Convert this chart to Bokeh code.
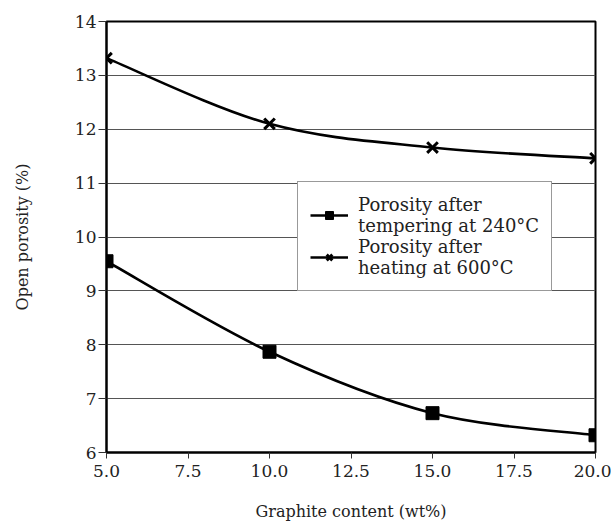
from bokeh.plotting import figure
from bokeh.models import Legend, LegendItem, FixedTicker, CustomJSTickFormatter
from bokeh.embed import file_html
from bokeh.resources import INLINE

graphite = [5.0, 10.0, 15.0, 20.0]
porosity_tempering = [9.55, 7.87, 6.73, 6.32]
porosity_heating = [13.32, 12.10, 11.66, 11.46]
x_ticks = [5.0, 7.5, 10.0, 12.5, 15.0, 17.5, 20.0]
y_ticks = [6, 7, 8, 9, 10, 11, 12, 13, 14]

FONT = "DejaVu Serif"

p = figure(width=611, height=523, output_backend="svg", toolbar_location=None,
           x_range=(5.0, 20.0), y_range=(6, 14),
           min_border_left=106, min_border_right=16, min_border_top=21, min_border_bottom=66)

p.xgrid.visible = False
p.ygrid.grid_line_color = "#555555"
p.ygrid.grid_line_width = 1
p.ygrid.ticker = FixedTicker(ticks=y_ticks)
p.outline_line_color = "black"
p.outline_line_width = 2

p.xaxis.ticker = FixedTicker(ticks=x_ticks)
p.yaxis.ticker = FixedTicker(ticks=y_ticks)
p.xaxis.formatter = CustomJSTickFormatter(code="return tick.toFixed(1);")
for ax in (p.xaxis, p.yaxis):
    ax.axis_line_color = "black"
    ax.axis_line_width = 2
    ax.major_tick_line_color = "#333333"
    ax.major_tick_in = 0
    ax.minor_tick_line_color = None
    ax.major_label_text_font = FONT
    ax.major_label_text_font_size = "17px"
    ax.major_label_text_color = "#222222"
    ax.axis_label_text_font = FONT
    ax.axis_label_text_font_size = "16px"
    ax.axis_label_text_font_style = "normal"
    ax.axis_label_text_color = "#222222"
p.xaxis.major_tick_out = 6
p.yaxis.major_tick_out = 8
p.yaxis.major_label_standoff = 2
p.xaxis.major_label_standoff = 6
p.xaxis.axis_label = "Graphite content (wt%)"
p.yaxis.axis_label = "Open porosity (%)"
p.xaxis.axis_label_standoff = 22
p.yaxis.axis_label_standoff = 40


def bezier_segments(xs, ys):
    n = len(xs)
    x0, y0, x1, y1, cx0, cy0, cx1, cy1 = [], [], [], [], [], [], [], []
    for i in range(n - 1):
        xp, yp = (xs[i - 1], ys[i - 1]) if i > 0 else (xs[i], ys[i])
        xn, yn = (xs[i + 2], ys[i + 2]) if i + 2 < n else (xs[i + 1], ys[i + 1])
        x0.append(xs[i]); y0.append(ys[i]); x1.append(xs[i + 1]); y1.append(ys[i + 1])
        cx0.append(xs[i] + (xs[i + 1] - xp) / 6.0)
        cy0.append(ys[i] + (ys[i + 1] - yp) / 6.0)
        cx1.append(xs[i + 1] - (xn - xs[i]) / 6.0)
        cy1.append(ys[i + 1] - (yn - ys[i]) / 6.0)
    return dict(x0=x0, y0=y0, x1=x1, y1=y1, cx0=cx0, cy0=cy0, cx1=cx1, cy1=cy1)


bt = p.bezier(source=bezier_segments(graphite, porosity_tempering),
              x0="x0", y0="y0", x1="x1", y1="y1", cx0="cx0", cy0="cy0", cx1="cx1", cy1="cy1",
              line_color="black", line_width=2.6)
st = p.scatter(graphite, porosity_tempering, marker="square", size=13,
               fill_color="black", line_color="black")
bh = p.bezier(source=bezier_segments(graphite, porosity_heating),
              x0="x0", y0="y0", x1="x1", y1="y1", cx0="cx0", cy0="cy0", cx1="cx1", cy1="cy1",
              line_color="black", line_width=2.6)
sh = p.scatter(graphite, porosity_heating, marker="x", size=15,
               line_color="black", line_width=3)

legend = Legend(items=[
    LegendItem(label="Porosity after\ntempering at 240°C", renderers=[bt, st]),
    LegendItem(label="Porosity after\nheating at 600°C", renderers=[bh, sh]),
], location=(191, 161))
legend.label_text_font = FONT
legend.label_text_font_size = "18px"
legend.label_text_color = "#222222"
legend.label_text_line_height = 1.05
legend.border_line_color = "#333333"
legend.border_line_width = 1.2
legend.background_fill_alpha = 1
legend.glyph_width = 38
legend.label_standoff = 10
legend.padding = 12
legend.spacing = 0
legend.margin = 0
p.add_layout(legend, "center")

open("out.html", "w").write(file_html(p, INLINE))
